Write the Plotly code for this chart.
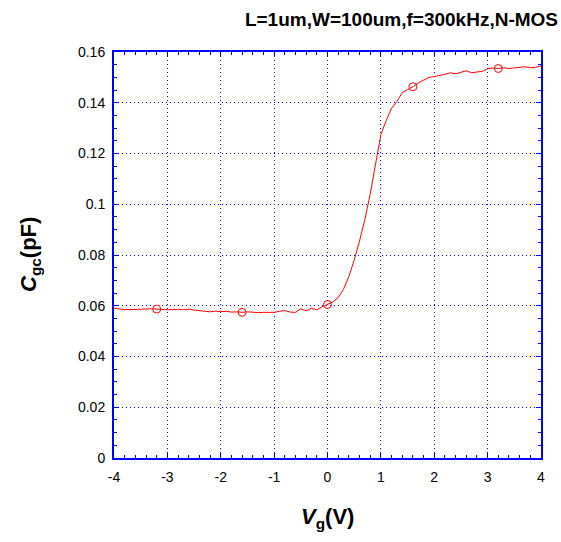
import plotly.graph_objects as go

vg = [round(-4.0 + 0.1 * i, 1) for i in range(81)]
cgc = [
    0.0590, 0.0587, 0.0585, 0.0585, 0.0586, 0.0586, 0.0587, 0.0588, 0.0587, 0.0585,
    0.0584, 0.0585, 0.0586, 0.0584, 0.0587, 0.0583, 0.0580, 0.0578, 0.0576, 0.0579,
    0.0577, 0.0578, 0.0575, 0.0576, 0.0574, 0.0576, 0.0574, 0.0573, 0.0574, 0.0573,
    0.0574, 0.0578, 0.0581, 0.0575, 0.0574, 0.0588, 0.0580, 0.0590, 0.0584, 0.0596,
    0.0605, 0.0615, 0.0632, 0.0665, 0.0715, 0.0780, 0.0855, 0.0940, 0.1040, 0.1160,
    0.1275, 0.1330, 0.1378, 0.1405, 0.1440, 0.1452, 0.1463, 0.1478, 0.1490, 0.1500,
    0.1503, 0.1507, 0.1512, 0.1518, 0.1514, 0.1520, 0.1526, 0.1518, 0.1520, 0.1524,
    0.1534, 0.1537, 0.1535, 0.1538, 0.1535, 0.1537, 0.1538, 0.1542, 0.1538, 0.1540,
    0.1545,
]
marker_idx = [8, 24, 40, 56, 72]
x_ticks = [-4, -3, -2, -1, 0, 1, 2, 3, 4]
x_tick_text = ["-4", "-3", "-2", "-1", "0", "1", "2", "3", "4"]
y_ticks = [0, 0.02, 0.04, 0.06, 0.08, 0.1, 0.12, 0.14, 0.16]
y_tick_text = ["0", "0.02", "0.04", "0.06", "0.08", "0.1", "0.12", "0.14", "0.16"]
title_text = "L=1um,W=100um,f=300kHz,N-MOS"

RED = "#ff0000"
BLUE = "#0000ff"
FONT = "Liberation Sans, Arial, sans-serif"

W, H = 561, 542
L, R, T, B = 114, 20, 52, 84
PW, PH = W - L - R, H - T - B

fig = go.Figure()
fig.add_trace(go.Scatter(x=vg, y=cgc, mode="lines", line=dict(color=RED, width=1),
                         showlegend=False, hoverinfo="skip"))
fig.add_trace(go.Scatter(x=[vg[i] for i in marker_idx], y=[cgc[i] for i in marker_idx],
                         mode="markers",
                         marker=dict(symbol="circle-open", size=8, color=RED, line=dict(width=1, color=RED)),
                         showlegend=False))

axis_common = dict(
    showline=True, linecolor=BLUE, linewidth=2, mirror="ticks",
    ticks="inside", tickcolor=BLUE, ticklen=5, tickwidth=1,
    showgrid=True, gridcolor=BLUE, griddash="1px,3px", gridwidth=1,
    zeroline=False,
    tickfont=dict(family=FONT, size=14, color="black"),
)

fig.update_xaxes(range=[-4, 4], tickvals=x_ticks, ticktext=x_tick_text, ticklabelstandoff=5,
                 minor=dict(dtick=0.2, ticks="inside", ticklen=3, tickcolor=BLUE, showgrid=False),
                 **axis_common)
fig.update_yaxes(range=[0, 0.16], tickvals=y_ticks, ticktext=y_tick_text, ticklabelstandoff=4,
                 minor=dict(dtick=0.005, ticks="inside", ticklen=3, tickcolor=BLUE, showgrid=False),
                 **axis_common)

fig.update_layout(
    width=W, height=H,
    margin=dict(l=L, r=R, t=T, b=B),
    paper_bgcolor="white", plot_bgcolor="white",
    title=dict(text="<b>" + title_text + "</b>", x=558 / W, xanchor="right", xref="container",
               y=1 - 19 / H, yanchor="middle",
               font=dict(family=FONT, size=19, color="black")),
    annotations=[
        dict(text="<b><i>V</i><sub>g</sub>(V)</b>", xref="paper", yref="paper", x=0.5, y=-60 / PH,
             showarrow=False, xanchor="center", yanchor="middle",
             font=dict(family=FONT, size=22, color="black")),
        dict(text="<b><i>C</i><sub>gc</sub>(pF)</b>", xref="paper", yref="paper", x=-84 / PW, y=0.5,
             showarrow=False, xanchor="center", yanchor="middle", textangle=-90,
             font=dict(family=FONT, size=22, color="black")),
    ],
)

fig.write_html("out.html", config={"displayModeBar": False},
               post_script="document.body.style.margin='0';document.body.style.overflow='hidden';")
